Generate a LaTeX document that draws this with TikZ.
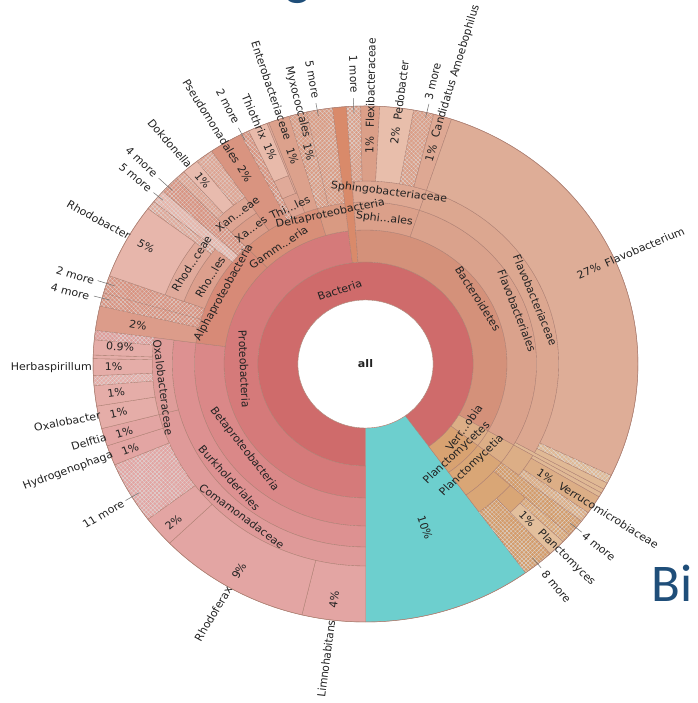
\documentclass[tikz,border=0pt]{standalone}
\usepackage{fontspec}
\setmainfont{DejaVu Sans}
\newfontfamily\slidefont{Carlito}
\usetikzlibrary{patterns,patterns.meta}
\definecolor{cBact}{HTML}{CF6B6B}
\definecolor{cTurq}{HTML}{6DCFCE}
\definecolor{cProteo}{HTML}{D57A7A}
\definecolor{cBeta}{HTML}{DA8888}
\definecolor{cBurk}{HTML}{DD9191}
\definecolor{cComa}{HTML}{DF9A99}
\definecolor{cComaG}{HTML}{E3A5A3}
\definecolor{cOxa}{HTML}{DF9D9A}
\definecolor{cOxaG}{HTML}{E5ADA8}
\definecolor{cAlpha}{HTML}{D78A77}
\definecolor{cAlphaL}{HTML}{DC9C8A}
\definecolor{cAlphaH}{HTML}{D99482}
\definecolor{cRhoO}{HTML}{DC9F8D}
\definecolor{cRhoF}{HTML}{E0AA9B}
\definecolor{cRhoG}{HTML}{E7B6AB}
\definecolor{cGamma}{HTML}{D88F78}
\definecolor{cXan}{HTML}{DB9C88}
\definecolor{cXanF}{HTML}{DEA593}
\definecolor{cXanG}{HTML}{E8BBAE}
\definecolor{cPseudo}{HTML}{D99480}
\definecolor{cThioO}{HTML}{DDA391}
\definecolor{cThioF}{HTML}{E0AA99}
\definecolor{cThioG}{HTML}{E8BAAA}
\definecolor{cEntero}{HTML}{DCA18C}
\definecolor{cDelta}{HTML}{D99A82}
\definecolor{cDeltaL}{HTML}{DA9C84}
\definecolor{cBctd}{HTML}{D4917A}
\definecolor{cSphO}{HTML}{DBA08A}
\definecolor{cSphF}{HTML}{DEA893}
\definecolor{cSphG}{HTML}{E8BEAB}
\definecolor{cSphH}{HTML}{DB9F88}
\definecolor{cFlavoO}{HTML}{DAA28C}
\definecolor{cFlavoF}{HTML}{DCA790}
\definecolor{cFlavoG}{HTML}{DEAD97}
\definecolor{cSliver}{HTML}{D98A6A}
\definecolor{cVerr}{HTML}{DCAE86}
\definecolor{cVerrL}{HTML}{E0B995}
\definecolor{cPlanc}{HTML}{D8A271}
\definecolor{cPlancM}{HTML}{D9A676}
\definecolor{cPlancL}{HTML}{E3BF9C}
\definecolor{cPlancH}{HTML}{D49C6B}
\definecolor{edge}{HTML}{AD7F72}
\definecolor{txt}{HTML}{222222}
\definecolor{leadc}{HTML}{6E6E6E}
\definecolor{slideblue}{HTML}{1F4E79}
% wedge: start angle, end angle, inner radius, outer radius, options
\newcommand\kw[5]{\path[cell,#5] (#1:#3pt) arc[start angle=#1,end angle=#2,radius=#3pt] -- (#2:#4pt) arc[start angle=#2,end angle=#1,radius=#4pt] -- cycle;}
% tangential label: name, angle, radius, rotation, text
\newcommand\tg[5]{\node[lbl,rotate=#4] (#1) at (#2:#3pt) {#5};}
% radial names (right half reads outward, left half reads inward)
\newcommand\rnm[4]{\node[lbl,anchor=west,rotate=#2] (#1) at (#2:#3pt) {#4};}
\newcommand\lnm[4]{\node[lbl,anchor=east,rotate=#2+180] (#1) at (#2:#3pt) {#4};}
% radial percentages
\newcommand\pcr[4]{\node[lbl,rotate=#2] (#1) at (#2:#3pt) {#4};}
\newcommand\pcl[4]{\node[lbl,rotate=#2+180] (#1) at (#2:#3pt) {#4};}
% leader line
\newcommand\ldr[4]{\coordinate (#1a) at (#2:#3pt); \coordinate (#1b) at (#2:#4pt); \draw[lead] (#1a) -- (#1b);}
\begin{document}
\begin{tikzpicture}[x=1pt,y=1pt,
  cell/.style={draw=edge,line width=0.35pt},
  hh/.style={postaction={pattern={Lines[angle=45,distance=3pt,line width=0.25pt]},pattern color=black!13},
             postaction={pattern={Lines[angle=-45,distance=3pt,line width=0.25pt]},pattern color=black!13}},
  lbl/.style={font=\fontsize{10.5}{12}\selectfont,text=txt,inner sep=0pt,transform shape},
  lead/.style={draw=leadc,line width=0.5pt}]
\useasboundingbox (0,0) rectangle (697,703);
\clip (0,0) rectangle (697,703);
\fill[white] (0,0) rectangle (697,703);
\begin{scope}[shift={(365.5,339)},xscale=1.056]
% ---------- depth 1
\kw{-54}{270}{64}{102}{fill=cBact}
\kw{270}{306}{64}{258}{fill=cTurq}
% ---------- depth 2
\kw{97}{270}{102}{134}{fill=cProteo}
\kw{94}{97}{102}{258}{fill=cSliver}
\kw{-30}{94}{102}{134}{fill=cBctd}
\kw{-37.5}{-30}{102}{134}{fill=cVerr}
\kw{-54}{-37.5}{102}{134}{fill=cPlanc}
% ---------- depth 3
\kw{172.5}{270}{134}{162}{fill=cBeta}
\kw{134}{172.5}{134}{162}{fill=cAlpha}
\kw{106.3}{134}{134}{162}{fill=cGamma}
\kw{97}{106.3}{134}{162}{fill=cDelta}
\kw{71.6}{94}{134}{162}{fill=cSphO}
\kw{-30}{71.6}{134}{162}{fill=cFlavoO}
\kw{-37.5}{-30}{134}{162}{fill=cVerr}
\kw{-54}{-37.5}{134}{162}{fill=cPlancM}
% ---------- depth 4
\kw{172.5}{270}{162}{183}{fill=cBurk}
\kw{167}{172.5}{162}{258}{fill=cAlphaL}
\kw{164}{167}{162}{258}{fill=cAlphaH,hh}
\kw{160}{164}{162}{258}{fill=cAlphaH,hh}
\kw{141}{160}{162}{183}{fill=cRhoO}
\kw{138}{141}{162}{258}{fill=cRhoG,hh}
\kw{134}{138}{162}{258}{fill=cAlphaH,hh}
\kw{124.4}{134}{162}{183}{fill=cXan}
\kw{117.2}{124.4}{162}{258}{fill=cPseudo}
\kw{115.4}{117.2}{162}{258}{fill=cPseudo,hh}
\kw{110.8}{115.4}{162}{183}{fill=cThioO}
\kw{106.3}{110.8}{162}{258}{fill=cEntero}
\kw{102.5}{106.3}{162}{258}{fill=cDeltaL,hh}
\kw{97}{102.5}{162}{258}{fill=cDeltaL,hh}
\kw{71.6}{94}{162}{183}{fill=cSphF}
\kw{-29}{71.6}{162}{183}{fill=cFlavoF}
\kw{-30}{-29}{162}{258}{fill=cVerrL}
\kw{-37.5}{-30}{162}{183}{fill=cVerr}
\kw{-41.5}{-37.5}{162}{258}{fill=cPlancH,hh}
\kw{-54}{-41.5}{162}{183}{fill=cPlancM}
% ---------- depth 5
\kw{194.5}{270}{183}{202}{fill=cComa}
\kw{172.5}{194.5}{183}{202}{fill=cOxa}
\kw{143}{160}{183}{202}{fill=cRhoF}
\kw{141}{143}{183}{258}{fill=cRhoF,hh}
\kw{124.4}{134}{183}{202}{fill=cXanF}
\kw{111.2}{115.4}{183}{202}{fill=cThioF}
\kw{110.8}{111.2}{183}{258}{fill=cThioF}
% Bacteroidetes genera
\kw{91}{94}{183}{258}{fill=cSphH,hh}
\kw{87}{91}{183}{258}{fill=cSphH}
\kw{79.8}{87}{183}{258}{fill=cSphG}
\kw{75.5}{79.8}{183}{258}{fill=cSphH,hh}
\kw{71.6}{75.5}{183}{258}{fill=cSphF}
\kw{-25.6}{71.6}{183}{258}{fill=cFlavoG}
\kw{-27.5}{-25.6}{183}{258}{fill=cVerrL,hh}
\kw{-29}{-27.5}{183}{258}{fill=cVerrL}
\kw{-31}{-30}{183}{258}{fill=cVerrL}
\kw{-35.2}{-31}{183}{258}{fill=cVerr}
\kw{-37.5}{-35.2}{183}{258}{fill=cVerr,hh}
\kw{-47.3}{-41.5}{183}{202}{fill=cPlancM}
\kw{-54}{-47.3}{183}{258}{fill=cPlancH,hh}
\kw{-47.3}{-43.5}{202}{258}{fill=cPlancL}
\kw{-43.5}{-41.5}{202}{258}{fill=cPlancM,hh}
% ---------- depth 6 genera
\kw{256.5}{270}{202}{258}{fill=cComaG}
\kw{224}{256.5}{202}{258}{fill=cComaG}
\kw{217}{224}{202}{258}{fill=cComaG}
\kw{203}{217}{202}{258}{fill=cComaG,hh}
\kw{198.5}{203}{202}{258}{fill=cComaG}
\kw{194.5}{198.5}{202}{258}{fill=cComaG}
\kw{189.4}{194.5}{202}{258}{fill=cOxaG}
\kw{184.8}{189.4}{202}{258}{fill=cOxaG}
\kw{182.6}{184.8}{202}{258}{fill=cOxaG,hh}
\kw{178.8}{182.6}{202}{258}{fill=cOxaG}
\kw{178}{178.8}{202}{258}{fill=cOxaG}
\kw{174.6}{178}{202}{258}{fill=cOxaG}
\kw{172.5}{174.6}{202}{258}{fill=cOxa,hh}
\kw{143}{160}{202}{258}{fill=cRhoG}
\kw{131.8}{134}{202}{258}{fill=cXanF,hh}
\kw{128.2}{131.8}{202}{258}{fill=cXanG}
\kw{124.4}{128.2}{202}{258}{fill=cXanF,hh}
\kw{111.2}{115.4}{202}{258}{fill=cThioG}
% outlines
\draw[edge,line width=0.5pt] (0,0) circle[radius=258pt];
\fill[white] (0,0) circle[radius=64pt];
\draw[edge,line width=0.4pt] (0,0) circle[radius=64pt];
\node[lbl,font=\bfseries\fontsize{10.5}{12}\selectfont] (all) at (0,0) {all};
% ---------- tangential labels
\tg{tBact}{108.3}{78}{18.3}{Bacteria}
\tg{tProt}{182.5}{115}{272.5}{Proteobacteria}
\tg{tBeta}{216.7}{143}{306.7}{Betaproteobacteria}
\tg{tBurk}{221.5}{172}{311.5}{Burkholderiales}
\tg{tComa}{232.4}{192}{322.4}{Comamonadaceae}
\tg{tOxa}{187}{193}{277}{Oxalobacteraceae}
\tg{tAlpha}{152}{152}{62}{Alphaproteobacteria}
\tg{tRhoO}{149.4}{171}{59.4}{Rho...les}
\tg{tRhoF}{148.6}{193}{58.6}{Rhod...ceae}
\tg{tXanF}{128.9}{193}{38.9}{Xan...eae}
\tg{tXanO}{128.8}{173}{38.8}{Xa...es}
\tg{tGam}{125.2}{143}{35.2}{Gamm...eria}
\tg{tThi}{114.6}{172}{24.6}{Thi...les}
\tg{tDelta}{102.5}{154}{12.5}{Deltaproteobacteria}
\tg{tSphO}{83}{146}{-7}{Sphi...ales}
\tg{tSphF}{82.6}{173}{-7.4}{Sphingobacteriaceae}
\tg{tBctd}{31.5}{125}{-58.5}{Bacteroidetes}
\tg{tFlO}{20.4}{153}{-69.6}{Flavobacteriales}
\tg{tFlF}{21.7}{173}{-68.3}{Flavobacteriaceae}
\tg{tVerr}{-34.4}{113}{55.6}{Verr...obia}
\tg{tPlaP}{-45.8}{124}{44.2}{Planctomycetes}
\tg{tPlaC}{-45.3}{143}{44.7}{Planctomycetia}
% ---------- radial labels, top and right
\pcl{pPseu}{121}{222}{2\%} \lnm{nPseu}{121}{235}{Pseudomonadales}
\ldr{lA}{117}{251}{265} \lnm{nTwoA}{116.8}{270}{2 more}
\pcl{pThio}{113}{231}{1\%} \lnm{nThio}{113}{245}{Thiothrix}
\pcl{pEnt}{108.4}{219}{1\%} \lnm{nEnt}{108}{236}{Enterobacteriaceae}
\pcl{pMyx}{104.2}{218.6}{1\%} \lnm{nMyx}{103.8}{233}{Myxococcales}
\ldr{lB}{100.2}{252}{265} \lnm{nFiveA}{100}{270}{5 more}
\ldr{lC}{92.5}{251}{266} \lnm{nOneA}{92.2}{271}{1 more}
\pcr{pFlex}{89}{219}{1\%} \rnm{nFlex}{89}{236}{Flexibacteraceae}
\pcr{pPedo}{83}{230}{2\%} \rnm{nPedo}{83}{246}{Pedobacter}
\ldr{lD}{77}{253}{267} \rnm{nThreeA}{77.3}{271}{3 more}
\pcr{pCand}{73.6}{220}{1\%} \rnm{nCand}{73.7}{236}{Candidatus Amoebophilus}
\pcr{pFlav}{23.7}{231}{27\%} \rnm{nFlav}{23.9}{248}{Flavobacterium}
\pcr{pVerr}{-33.4}{204}{1\%} \rnm{nVerr}{-33.3}{220}{Verrucomicrobiaceae}
\ldr{lE}{-39.4}{251}{265} \rnm{nFourR}{-39.6}{268}{4 more}
\pcr{pPlan}{-45.4}{218}{1\%} \rnm{nPlan}{-45.5}{235}{Planctomyces}
\ldr{lF}{-50.8}{250}{263} \rnm{nEight}{-50.9}{268}{8 more}
\pcr{pTurq}{-71}{173}{10\%}
% ---------- radial labels, left
\pcl{pDok}{130}{240}{1\%} \lnm{nDok}{130}{258}{Dokdonella}
\ldr{lG}{136.5}{252}{270} \lnm{nFourA}{136.4}{274}{4 more}
\ldr{lH}{139.5}{252}{264} \lnm{nFiveB}{139.4}{268}{5 more}
\pcl{pRhb}{150.4}{239}{5\%} \lnm{nRhb}{150.3}{257}{Rhodobacter}
\ldr{lI}{161.8}{250}{267} \lnm{nTwoB}{162.1}{270}{2 more}
\ldr{lJ}{165.2}{250}{266} \lnm{nFourB}{165.5}{270}{4 more}
\pcl{pAtwo}{169.7}{219}{2\%}
\pcl{pOnine}{175.8}{233}{0.9\%}
\pcl{pHerb}{180.7}{238.6}{1\%} \lnm{nHerb}{180.7}{259}{Herbaspirillum}
\pcl{pOone}{187}{238}{1\%}
\pcl{pOxa}{191.8}{239}{1\%} \lnm{nOxa}{191.5}{256}{Oxalobacter}
\pcl{pDelf}{196.6}{238.6}{1\%} \lnm{nDelf}{196.6}{256}{Delftia}
\pcl{pHydr}{200.9}{238.6}{1\%} \lnm{nHydr}{200.8}{256}{Hydrogenophaga}
\ldr{lK}{211}{250}{265} \lnm{nEleven}{211.2}{268}{11 more}
\pcl{pCtwo}{221}{241}{2\%}
\pcl{pRhf}{239.9}{239}{9\%} \lnm{nRhf}{240}{258}{Rhodoferax}
\pcl{pLim}{262.8}{237.6}{4\%} \lnm{nLim}{262.8}{258}{Limnohabitans}
\end{scope}
% slide fragments
\node[font=\slidefont\fontsize{53}{53}\selectfont,text=slideblue,anchor=base west,inner sep=0pt] (slideBi) at (651,101) {Bi};
\node[font=\slidefont\fontsize{53}{53}\selectfont,text=slideblue,anchor=base west,inner sep=0pt] (slideG) at (285.5,708.6) {g};
\end{tikzpicture}
\end{document}
